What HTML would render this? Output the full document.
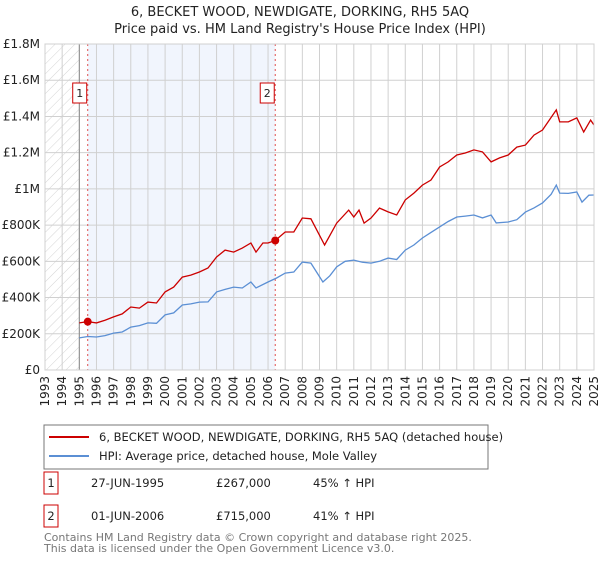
<!DOCTYPE html>
<html><head><meta charset="utf-8"><style>
body{margin:0;background:#fff;font-family:"DejaVu Sans","Liberation Sans",sans-serif;}
svg text{font-family:"DejaVu Sans","Liberation Sans",sans-serif;}
</style></head><body>
<svg id="chart" width="600" height="560" xmlns="http://www.w3.org/2000/svg">
<defs><pattern id="hatch" width="7" height="7" patternUnits="userSpaceOnUse" patternTransform="rotate(45)"><line x1="0" y1="0" x2="0" y2="7" stroke="#d4d4d4" stroke-width="1"/></pattern></defs>
<text x="300" y="16" text-anchor="middle" font-size="13" fill="#222">6, BECKET WOOD, NEWDIGATE, DORKING, RH5 5AQ</text>
<text x="300" y="33" text-anchor="middle" font-size="13" fill="#222">Price paid vs. HM Land Registry's House Price Index (HPI)</text>
<g id="plot"></g>
<rect x="44" y="425" width="444" height="44" fill="#fff" stroke="#777"/>
<line x1="49" y1="437" x2="89" y2="437" stroke="#cc0000" stroke-width="2"/>
<text x="99" y="441" font-size="11.5" fill="#222">6, BECKET WOOD, NEWDIGATE, DORKING, RH5 5AQ (detached house)</text>
<line x1="49" y1="456" x2="89" y2="456" stroke="#5b8fd4" stroke-width="2"/>
<text x="99" y="460" font-size="11.5" fill="#222">HPI: Average price, detached house, Mole Valley</text>
<g font-size="11.5" fill="#222">
<rect x="44" y="472" width="14" height="22" fill="#fff" stroke="#cc0000"/>
<text x="51" y="487" text-anchor="middle">1</text>
<text x="91" y="487">27-JUN-1995</text>
<text x="216" y="487">£267,000</text>
<text x="313" y="487">45% ↑ HPI</text>
<rect x="44" y="505" width="14" height="22" fill="#fff" stroke="#cc0000"/>
<text x="51" y="520" text-anchor="middle">2</text>
<text x="91" y="520">01-JUN-2006</text>
<text x="216" y="520">£715,000</text>
<text x="313" y="520">41% ↑ HPI</text>
</g>
<text x="44" y="541" font-size="11" fill="#777">Contains HM Land Registry data © Crown copyright and database right 2025.</text>
<text x="44" y="552" font-size="11" fill="#777">This data is licensed under the Open Government Licence v3.0.</text>
</svg>
<script>
const hpiYears=[1995,1995.5,1996,1996.5,1997,1997.5,1998,1998.5,1999,1999.5,2000,2000.5,2001,2001.5,2002,2002.5,2003,2003.5,2004,2004.5,2005,2005.3,2006,2006.5,2007,2007.5,2008,2008.5,2009.2,2009.6,2010,2010.5,2011,2011.5,2012,2012.5,2013,2013.5,2014,2014.5,2015,2015.5,2016,2016.5,2017,2017.5,2018,2018.5,2019,2019.3,2020,2020.5,2021,2021.5,2022,2022.5,2022.8,2023,2023.5,2024,2024.3,2024.7,2025];
const hpiValues=[177,185,182,190,204,210,237,245,260,258,304,315,359,365,375,376,431,445,458,453,486,453,486,508,535,541,596,590,486,520,570,600,607,595,590,600,618,610,662,690,729,760,790,820,845,850,856,840,856,812,817,830,872,895,922,970,1021,977,975,983,927,965,966];
const priceYears=[1995,1995.49,1996,1996.5,1997,1997.5,1998,1998.5,1999,1999.5,2000,2000.5,2001,2001.5,2002,2002.5,2003,2003.5,2004,2004.5,2005,2005.3,2005.7,2006,2006.42,2007,2007.5,2008,2008.5,2009.3,2010,2010.7,2011,2011.3,2011.6,2012,2012.5,2013,2013.5,2014,2014.5,2015,2015.5,2016,2016.5,2017,2017.5,2018,2018.5,2019,2019.5,2020,2020.5,2021,2021.5,2022,2022.8,2023,2023.5,2024,2024.4,2024.8,2025];
const priceValues=[260,267,260,275,293,310,348,342,375,370,431,458,513,524,541,563,624,662,651,673,701,651,701,701,715,762,762,839,835,690,811,883,845,883,811,839,894,873,856,939,977,1021,1049,1121,1149,1187,1198,1215,1204,1149,1171,1187,1231,1242,1297,1325,1436,1370,1370,1392,1314,1380,1353];
const saleYears=[1995.49,2006.42];
const saleValues=[267,715];
const saleLabels=["1","2"];
const yTicks=[0,200,400,600,800,1000,1200,1400,1600,1800];
const yTickLabels=["£0","£200K","£400K","£600K","£800K","£1M","£1.2M","£1.4M","£1.6M","£1.8M"];
const xTicks=[1993,1994,1995,1996,1997,1998,1999,2000,2001,2002,2003,2004,2005,2006,2007,2008,2009,2010,2011,2012,2013,2014,2015,2016,2017,2018,2019,2020,2021,2022,2023,2024,2025];

const L=45,R=594,T=44,B=370;
const x=y=>L+(y-1993)/(2025-1993)*(R-L);
const yS=v=>B-v/1800*(B-T);
const NS="http://www.w3.org/2000/svg";
const g=document.getElementById('plot');
function mk(tag,attrs,parent){const e=document.createElementNS(NS,tag);for(const k in attrs)e.setAttribute(k,attrs[k]);(parent||g).appendChild(e);return e;}
let e;
e=mk('rect',{x:L,y:T,width:x(1995)-L,height:B-T,fill:'url(#hatch)'});


e=mk('rect',{x:x(saleYears[0]),y:T,width:x(saleYears[1])-x(saleYears[0]),height:B-T,fill:'#f1f5fd'});


xTicks.forEach((t,i)=>{
 e=mk('line',{x1:x(t),x2:x(t),y1:T,y2:B,stroke:'#d0d0d0','stroke-width':1});
 
 
 e=mk('text',{x:0,y:0,transform:`translate(${x(t)+4},${B+6}) rotate(-90)`,'text-anchor':'end','font-size':12,fill:'#222'});
 e.textContent=t;
 
 
});
yTicks.forEach((t,i)=>{
 e=mk('line',{x1:L,x2:R,y1:yS(t),y2:yS(t),stroke:'#d0d0d0','stroke-width':1});
 
 
 e=mk('text',{x:L-5,y:yS(t)+4,'text-anchor':'end','font-size':12,fill:'#222'});
 e.textContent=yTickLabels[i];
 
 
});
e=mk('line',{x1:x(1995),x2:x(1995),y1:T,y2:B,stroke:'#888'});


saleYears.forEach((s,i)=>{
 e=mk('line',{x1:x(s),x2:x(s),y1:T,y2:B,stroke:'#e05050','stroke-dasharray':'2,3'});
 
 
 e=mk('rect',{x:x(s)-15,y:83,width:14,height:20,fill:'#fff',stroke:'#cc0000'});
 
 
 e=mk('text',{x:x(s)-8,y:97,'text-anchor':'middle','font-size':11,fill:'#222'});
 e.textContent=saleLabels[i];
 
 
});
e=mk('path',{d:hpiYears.map((t,i)=>(i?'L':'M')+x(t).toFixed(1)+','+yS(hpiValues[i]).toFixed(1)).join(''),fill:'none',stroke:'#5b8fd4','stroke-width':1.3});


e=mk('path',{d:priceYears.map((t,i)=>(i?'L':'M')+x(t).toFixed(1)+','+yS(priceValues[i]).toFixed(1)).join(''),fill:'none',stroke:'#cc0000','stroke-width':1.3});


saleYears.forEach((s,i)=>{
 e=mk('circle',{cx:x(s),cy:yS(saleValues[i]),r:4,fill:'#cc0000'});
 
 
});
e=mk('rect',{x:L,y:T,width:R-L,height:B-T,fill:'none',stroke:'#d0d0d0'});


</script>
</body></html>
